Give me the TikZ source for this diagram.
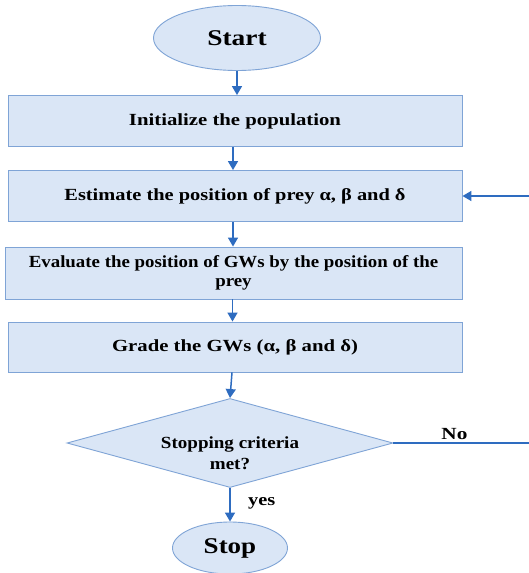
\documentclass[tikz,border=0pt]{standalone}
\usepackage{fontspec}
\usepackage{graphicx}
\setmainfont{Liberation Serif}
\usetikzlibrary{shapes.geometric,arrows.meta}
\definecolor{boxfill}{HTML}{DAE6F6}
\definecolor{boxline}{HTML}{7FA4D6}
\definecolor{flowline}{HTML}{2E6CC0}
% horizontally widened text
\newcommand{\widetxt}[2][1.2]{\scalebox{#1}[1]{#2}}
\tikzset{
  procbox/.style={draw=boxline, fill=boxfill, line width=0.9pt, minimum width=454pt,
    minimum height=51pt, font=\bfseries\fontsize{17}{20}\selectfont, align=center, inner sep=2pt},
  terminal/.style={ellipse, draw=boxline, fill=boxfill, line width=0.9pt,
    font=\bfseries\fontsize{22.5}{24}\selectfont, inner sep=0pt},
  decision/.style={diamond, draw=boxline, fill=boxfill, line width=0.9pt, aspect=3.66,
    inner sep=0pt},
  dectext/.style={font=\bfseries\fontsize{17}{20}\selectfont, align=center, inner sep=0pt},
  flow/.style={draw=flowline, line width=1.5pt, -{Triangle[length=9pt,width=10pt]}},
  plainflow/.style={draw=flowline, line width=1.2pt},
  lbl/.style={font=\bfseries\fontsize{17}{20}\selectfont}
}
\begin{document}
\begin{tikzpicture}[x=1pt,y=-1pt]
  \useasboundingbox (0,0) rectangle (529,573);
  \fill[white] (0,0) rectangle (529,573);
  % terminals, process steps and the decision
  \node[terminal, minimum width=167pt, minimum height=65pt] (start) at (237,38) {\widetxt[1.22]{Start}};
  \node[procbox] (init) at (235,121) {\widetxt[1.22]{Initialize the population}};
  \node[procbox] (est) at (235,196) {\widetxt{Estimate the position of prey α, β and δ}};
  \node[procbox, minimum width=457pt, minimum height=52pt] (eval) at (233.5,273)
    {\widetxt[1.11]{Evaluate the position of GWs by the position of the}\\[-1pt]\widetxt[1.11]{prey}};
  \node[procbox, minimum height=50pt] (grade) at (235,347) {\widetxt[1.22]{Grade the GWs (α, β and δ)}};
  \node[decision, minimum width=326pt, minimum height=89pt] (stop?) at (230,443) {};
  \node[dectext] (stoptxt) at (230,453)
    {\widetxt[1.12]{Stopping criteria}\\[1pt]\widetxt[1.12]{met?}};
  \node[terminal, minimum width=115pt, minimum height=52pt] (stop) at (230,548) {\widetxt[1.2]{Stop}};
  % loop-back ends at the right border
  \coordinate (noend) at (529,443);
  \coordinate (backin) at (529,196);
  % connectors
  \draw[flow] (start.south) -- (init.north -| start.south);
  \draw[flow] ([xshift=-2pt]init.south) -- ([xshift=-2pt]est.north);
  \draw[flow] ([xshift=-2pt]est.south) -- ([xshift=-2pt]est.south |- eval.north);
  \draw[flow] ([xshift=-1pt]eval.south) -- ([xshift=-1pt]eval.south |- grade.north);
  \draw[flow] ([xshift=-3pt]grade.south) -- (stop?.north);
  \draw[flow] (stop?.south) -- node[lbl, right=14pt, pos=0.45] {\widetxt[1.2]{yes}} (stop.north);
  \draw[plainflow] (stop?.east) -- node[lbl, above=-1pt, pos=0.45] {\widetxt[1.25]{No}} (noend);
  \draw[flow] (backin) -- (est.east);
\end{tikzpicture}
\end{document}
